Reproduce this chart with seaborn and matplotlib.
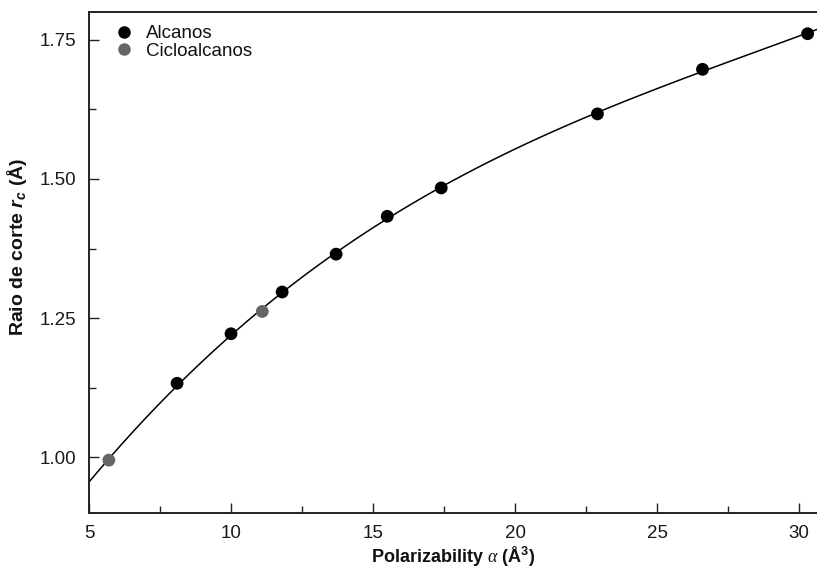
import numpy as np
import pandas as pd
import matplotlib
matplotlib.use("Agg")
import matplotlib.pyplot as plt
from matplotlib.ticker import MultipleLocator, FormatStrFormatter
import seaborn as sns

# Polarizability (Å^3) and cutoff radius r_c (Å)
alk_alpha = [8.1, 10.0, 11.8, 13.7, 15.5, 17.4, 22.9, 26.6, 30.3]
alk_rc = [1.133, 1.222, 1.297, 1.365, 1.433, 1.484, 1.617, 1.697, 1.761]
cyc_alpha = [5.7, 11.1]
cyc_rc = [0.995, 1.262]

series_names = ["Alcanos", "Cicloalcanos"]
series_colors = ["#000000", "#666666"]

df = pd.DataFrame({
    "alpha": alk_alpha + cyc_alpha,
    "rc": alk_rc + cyc_rc,
    "grupo": [series_names[0]] * len(alk_alpha) + [series_names[1]] * len(cyc_alpha),
})

sns.set_theme(style="ticks")
plt.rcParams["font.family"] = ["Liberation Sans", "DejaVu Sans"]
plt.rcParams["mathtext.fontset"] = "custom"
plt.rcParams["mathtext.rm"] = "Liberation Sans:bold"
plt.rcParams["mathtext.bf"] = "Liberation Sans:bold"
plt.rcParams["mathtext.it"] = "Liberation Sans:italic:bold"
plt.rcParams["mathtext.sf"] = "Liberation Serif:italic"

fig = plt.figure(figsize=(8.17, 5.73), dpi=100)
ax = fig.add_axes([89 / 817, 1 - 513 / 573, 1 - 89 / 817, (513 - 12) / 573])

ax.set_xlim(5, 30.63)
ax.set_ylim(0.90, 1.80)

# Smooth cubic fit through all compounds
sns.regplot(data=df, x="alpha", y="rc", order=3, ci=None, scatter=False,
            truncate=False, ax=ax, line_kws=dict(color="black", lw=1.1))

sns.scatterplot(data=df, x="alpha", y="rc", hue="grupo", hue_order=series_names,
                palette=series_colors, s=85, edgecolor="none", ax=ax, zorder=3)

ax.set_xlim(5, 30.63)
ax.set_ylim(0.90, 1.80)

ax.xaxis.set_major_locator(MultipleLocator(5))
ax.xaxis.set_minor_locator(MultipleLocator(2.5))
ax.yaxis.set_major_locator(MultipleLocator(0.25))
ax.yaxis.set_minor_locator(MultipleLocator(0.125))
ax.yaxis.set_major_formatter(FormatStrFormatter("%.2f"))

ax.tick_params(which="both", direction="in", width=1.0, color="#222222",
               labelsize=13.5, labelcolor="#1a1a1a")
ax.tick_params(which="major", length=7, pad=9)
ax.tick_params(which="minor", length=5)

for side in ["left", "bottom", "top"]:
    ax.spines[side].set_linewidth(1.4)
    ax.spines[side].set_color("#222222")
ax.spines["right"].set_visible(False)

ax.set_xlabel(r"Polarizability $\mathsf{\alpha}$ (Å$^{\mathbf{3}}$)",
              fontsize=13, fontweight="bold", labelpad=2, color="#111111")
ax.set_ylabel(r"Raio de corte $r_c$ (Å)", fontsize=14, fontweight="bold",
              color="#111111")
ax.yaxis.set_label_coords(-0.083, 0.531)

leg = ax.legend(loc="upper left", bbox_to_anchor=(0.027, 0.981), frameon=False,
                fontsize=13.5, handletextpad=0.6, borderaxespad=0.0,
                labelspacing=0.0, handlelength=1.2, borderpad=0.2)
for h in leg.legend_handles:
    h.set_markersize(9)
for t in leg.get_texts():
    t.set_color("#111111")

fig.savefig("out.png", dpi=100)
